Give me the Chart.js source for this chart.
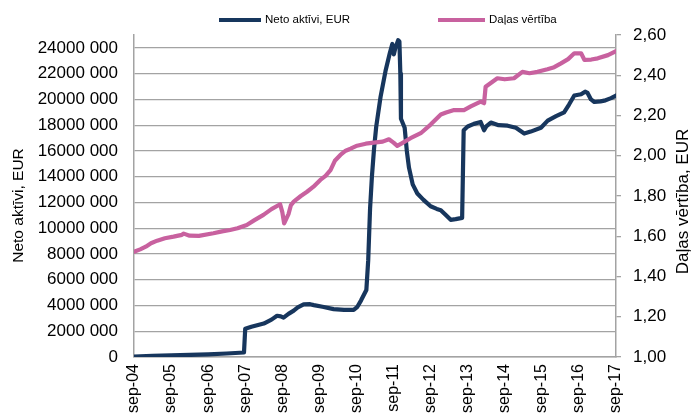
<!DOCTYPE html>
<html>
<head>
<meta charset="utf-8">
<script src="https://cdn.jsdelivr.net/npm/chart.js@4.4.1/dist/chart.umd.min.js"></script>
<style>
  html, body { margin: 0; padding: 0; background: #fff; overflow: hidden; }
  #wrap { position: relative; width: 692px; height: 413px; }
</style>
</head>
<body>
<div id="wrap"><canvas id="c" width="692" height="413"></canvas></div>
<script>
// ---- Data (x = months since sep-04) ----
const xTickLabels = ['sep-04','sep-05','sep-06','sep-07','sep-08','sep-09','sep-10','sep-11','sep-12','sep-13','sep-14','sep-15','sep-16','sep-17'];
const leftTickLabels = ['0','2000 000','4000 000','6000 000','8000 000','10000 000','12000 000','14000 000','16000 000','18000 000','20000 000','22000 000','24000 000'];
const rightTickLabels = ['1,00','1,20','1,40','1,60','1,80','2,00','2,20','2,40','2,60'];

const seriesNames = ['Neto aktīvi, EUR', 'Daļas vērtība'];
const axisTitles = ['Neto aktīvi, EUR', 'Daļas vērtība, EUR'];

const netoMonths = [0,6,12,18,24,30,35.6,36,38,42,44.5,46.3,47.5,48.4,50,51.7,53,54.9,57,58.2,61,64.6,68,71.1,72.3,73.5,75.2,75.8,76.4,77.0,77.7,78.4,79.8,81.4,82.8,83.6,84.1,84.6,85.5,85.9,86.2,86.4,87.6,88.3,89.0,90.2,91.7,93.7,96,98,99.3,101,102.5,104.1,106.2,106.7,108,110,112.2,113.3,114,115.5,118,120.9,123.6,126.3,128.4,131.7,133.9,136.6,139.2,140.8,142.5,144.7,146,146.8,147.9,149,151,152.2,154.4,156];
const netoValues = [0.03,0.08,0.12,0.16,0.21,0.27,0.35,2.2,2.35,2.6,2.9,3.2,3.15,3.05,3.35,3.6,3.85,4.08,4.1,4.03,3.9,3.72,3.66,3.66,3.9,4.4,5.2,7.5,11.5,14.0,16.2,17.9,20.2,22.2,23.6,24.3,23.5,24.0,24.6,24.5,22.0,18.5,17.8,16.0,14.7,13.4,12.7,12.2,11.7,11.5,11.4,11.0,10.65,10.7,10.8,17.6,17.9,18.1,18.25,17.6,17.9,18.2,18.0,17.96,17.8,17.35,17.5,17.8,18.35,18.7,19.0,19.6,20.3,20.4,20.6,20.5,20.0,19.8,19.85,19.9,20.1,20.3].map(v => v * 1e6);

const dalasMonths = [0,2,3.8,5.5,7.5,10,12.8,15.5,16.1,18,21,25.7,28.5,31.1,33.5,36.5,39,41.9,44.5,47.3,48.0,48.6,50,50.8,51.7,54,56,58,60.3,62,63.6,65,66.8,68.5,70.1,72.2,75,77.6,80.5,82.5,84,85.2,86.5,89.5,92.8,96,99.3,101,103.6,106.8,109,112.2,113.3,113.8,117.6,120,123,125.7,128,130.6,133.8,136,138.2,140.5,142.5,144.7,145.8,148,150.1,153.4,156];
const dalasValues = [1.523,1.535,1.548,1.565,1.578,1.590,1.598,1.607,1.613,1.603,1.602,1.615,1.624,1.631,1.640,1.656,1.680,1.706,1.735,1.759,1.720,1.664,1.710,1.755,1.772,1.800,1.821,1.845,1.880,1.900,1.929,1.975,2.004,2.025,2.035,2.050,2.060,2.065,2.070,2.082,2.065,2.049,2.060,2.087,2.112,2.155,2.205,2.215,2.227,2.227,2.245,2.269,2.261,2.343,2.385,2.380,2.385,2.417,2.410,2.417,2.430,2.440,2.459,2.480,2.509,2.509,2.476,2.478,2.484,2.500,2.520];

const blue = '#17365d';
const pink = '#c8619f';
const axisGray = '#a3a3a3';

const netoData = netoMonths.map((m, i) => ({ x: m, y: netoValues[i] }));
const dalasData = dalasMonths.map((m, i) => ({ x: m, y: dalasValues[i] }));

const extrasPlugin = {
  id: 'extras',
  afterDraw(chart) {
    const ctx = chart.ctx;
    ctx.save();
    // Legend
    ctx.lineCap = 'butt';
    ctx.lineWidth = 4;
    ctx.strokeStyle = blue;
    ctx.beginPath(); ctx.moveTo(219, 20); ctx.lineTo(261, 20); ctx.stroke();
    ctx.strokeStyle = pink;
    ctx.beginPath(); ctx.moveTo(438, 20); ctx.lineTo(485, 20); ctx.stroke();
    ctx.fillStyle = '#000';
    ctx.font = '11.5px "Liberation Sans", Arial, sans-serif';
    ctx.textBaseline = 'middle';
    ctx.textAlign = 'left';
    ctx.fillText(seriesNames[0], 265, 20);
    ctx.fillText(seriesNames[1], 489, 20);
    // Axis titles
    ctx.textAlign = 'center';
    ctx.font = '15.5px "Liberation Sans", Arial, sans-serif';
    ctx.save();
    ctx.translate(19, 205.5);
    ctx.rotate(-Math.PI / 2);
    ctx.fillText(axisTitles[0], 0, 0);
    ctx.restore();
    ctx.font = '17px "Liberation Sans", Arial, sans-serif';
    ctx.save();
    ctx.translate(683, 201.5);
    ctx.rotate(-Math.PI / 2);
    ctx.fillText(axisTitles[1], 0, 0);
    ctx.restore();
    ctx.restore();
  }
};

new Chart(document.getElementById('c'), {
  type: 'line',
  data: {
    datasets: [
      { label: seriesNames[0], data: netoData, yAxisID: 'y', borderColor: blue, backgroundColor: blue,
        borderWidth: 4.2, pointRadius: 0, tension: 0, borderJoinStyle: 'round', borderCapStyle: 'round', order: 1 },
      { label: seriesNames[1], data: dalasData, yAxisID: 'y1', borderColor: pink, backgroundColor: pink,
        borderWidth: 4.2, pointRadius: 0, tension: 0, borderJoinStyle: 'round', borderCapStyle: 'round', order: 0 }
    ]
  },
  options: {
    responsive: false,
    devicePixelRatio: 1,
    animation: false,
    layout: { padding: { top: 35, left: 0, right: 0, bottom: 0 } },
    plugins: { legend: { display: false }, tooltip: { enabled: false } },
    scales: {
      x: {
        type: 'linear', min: 0, max: 156,
        grid: { display: false, drawTicks: false },
        border: { display: true, color: axisGray, width: 1.5 },
        ticks: {
          autoSkip: false, maxRotation: 90, minRotation: 90, padding: 7,
          color: '#000', font: { family: '"Liberation Sans", Arial, sans-serif', size: 16 },
          callback: (v) => xTickLabels[Math.round(v / 12)]
        },
        afterBuildTicks: (s) => { s.ticks = xTickLabels.map((_, i) => ({ value: i * 12 })); },
        afterFit: (s) => { s.height = 56; }
      },
      y: {
        position: 'left', min: 0, max: 25e6,
        grid: { color: axisGray, lineWidth: 1.3, drawTicks: false },
        border: { display: true, color: axisGray, width: 1.5 },
        ticks: {
          padding: 16, color: '#000',
          font: { family: '"Liberation Sans", Arial, sans-serif', size: 17 },
          callback: (v) => leftTickLabels[Math.round(v / 2e6)]
        },
        afterBuildTicks: (s) => { s.ticks = leftTickLabels.map((_, i) => ({ value: i * 2e6 })); },
        afterFit: (s) => { s.width = 134; }
      },
      y1: {
        position: 'right', min: 1, max: 2.6,
        grid: { drawOnChartArea: false, drawTicks: true, tickLength: 5, color: axisGray, lineWidth: 1.3 },
        border: { display: true, color: axisGray, width: 1.5 },
        ticks: {
          padding: 12, color: '#000',
          font: { family: '"Liberation Sans", Arial, sans-serif', size: 17 },
          callback: (v) => rightTickLabels[Math.round((v - 1) / 0.2)]
        },
        afterBuildTicks: (s) => { s.ticks = rightTickLabels.map((_, i) => ({ value: 1 + i * 0.2 })); },
        afterFit: (s) => { s.width = 76; }
      }
    }
  },
  plugins: [extrasPlugin]
});
</script>
</body>
</html>
